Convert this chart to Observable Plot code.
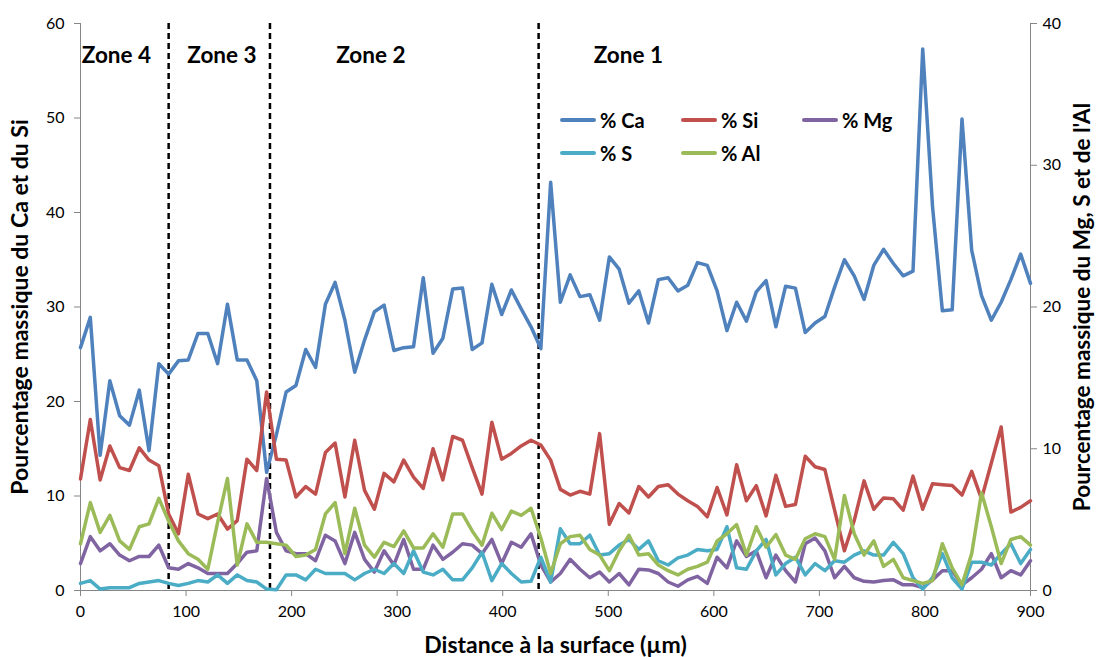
<!DOCTYPE html>
<html>
<head>
<meta charset="utf-8">
<script src="https://cdn.jsdelivr.net/npm/d3@7"></script>
<script src="https://cdn.jsdelivr.net/npm/@observablehq/plot@0.6"></script>
<style>
  body { margin: 0; background: #fff; }
  #wrap { position: relative; width: 1097px; height: 657px; font-family: Lato, "Liberation Sans", sans-serif; }
  #legend { position: absolute; left: 560px; top: 103px; display: grid; grid-template-columns: 121px 121px 121px; }
  .item { display: flex; align-items: center; height: 33px; font-weight: bold; font-size: 20px; color: #000; white-space: nowrap; }
  .sw { width: 36px; height: 4px; border-radius: 2px; margin-right: 4px; }
</style>
</head>
<body>
<div id="wrap"><div id="legend"></div></div>
<script>
// ---- data ----
const xPos = [0,9.3,18.6,27.8,37.1,46.4,55.7,64.9,74.2,83.5,92.8,102.1,111.3,120.6,129.9,139.2,148.5,157.7,167.0,176.3,
  185.6,194.8,204.1,213.4,222.7,232.0,241.2,250.5,259.8,269.1,278.4,287.6,296.9,306.2,315.5,324.7,334.0,343.3,352.6,361.9,
  371.1,380.4,389.7,399.0,408.2,417.5,426.8,436.1,445.4,454.6,463.9,473.2,482.5,491.8,501.0,510.3,519.6,528.9,538.1,547.4,
  556.7,566.0,575.3,584.5,593.8,603.1,612.4,621.6,630.9,640.2,649.5,658.8,668.0,677.3,686.6,695.9,705.2,714.4,723.7,733.0,
  742.3,751.5,760.8,770.1,779.4,788.7,797.9,807.2,816.5,825.8,835.1,844.3,853.6,862.9,872.2,881.4,890.7,900.0];

// left axis (% mass)
const ca = [25.7,28.9,14.3,22.2,18.5,17.5,21.2,14.8,24.0,22.9,24.3,24.4,27.2,27.2,24.0,30.3,24.4,24.4,22.2,12.5,
  16.5,21.0,21.7,25.5,23.6,30.3,32.6,28.6,23.1,26.5,29.5,30.2,25.4,25.7,25.8,33.1,25.1,26.7,31.9,32.0,
  25.5,26.2,32.4,29.2,31.8,29.8,27.9,25.6,43.2,30.5,33.4,31.1,31.3,28.6,35.3,34.0,30.4,31.7,28.3,32.9,
  33.1,31.7,32.3,34.7,34.4,31.7,27.5,30.5,28.5,31.6,32.8,27.9,32.2,32.0,27.3,28.3,29.0,32.1,35.0,33.3,
  30.8,34.4,36.1,34.6,33.3,33.8,57.3,40.6,29.6,29.7,49.9,36.0,31.2,28.6,30.5,32.9,35.6,32.5];
const si = [11.8,18.1,11.7,15.3,13.0,12.7,15.1,13.8,13.2,8.1,6.0,12.3,8.1,7.6,8.1,6.5,7.4,13.9,12.7,21.0,
  13.9,13.8,9.9,11.0,10.2,14.6,15.6,9.9,15.9,10.6,8.6,12.4,11.5,13.8,12.0,10.8,15.0,11.7,16.3,15.9,
  13.0,10.2,17.8,13.9,14.5,15.3,15.9,15.4,13.8,10.7,10.1,10.5,10.2,16.6,7.0,9.2,8.2,11.0,9.9,11.0,
  11.2,10.2,9.5,8.9,7.8,10.9,8.0,13.3,9.5,11.1,7.9,12.2,8.9,9.1,14.2,13.1,12.8,8.5,4.2,7.4,
  11.6,8.6,9.8,9.7,8.5,12.1,8.6,11.3,11.2,11.1,10.1,12.6,9.7,13.5,17.3,8.3,8.8,9.5];

// right axis (% mass)
const mg = [1.9,3.8,2.8,3.3,2.5,2.1,2.4,2.4,3.2,1.6,1.5,1.9,1.6,1.2,1.2,1.2,1.9,2.7,2.8,7.9,
  4.1,2.8,2.6,2.6,2.1,3.9,3.5,1.9,4.1,2.2,1.3,2.8,1.8,3.6,1.5,1.5,3.2,2.2,2.7,3.3,
  3.2,2.6,3.6,1.9,3.4,3.05,4.0,1.8,0.6,1.2,2.2,1.5,0.9,1.3,0.6,1.2,0.4,1.5,1.45,1.2,
  0.6,0.3,0.75,1.0,0.5,2.35,1.6,3.5,2.4,2.8,0.9,2.5,1.4,0.6,3.3,3.7,2.8,0.9,1.7,0.9,
  0.65,0.6,0.7,0.75,0.4,0.4,0.2,0.75,1.4,1.4,0.4,0.9,1.5,2.6,0.9,1.4,1.1,2.1];
const s = [0.5,0.7,0.1,0.2,0.2,0.2,0.5,0.6,0.7,0.5,0.35,0.5,0.7,0.6,1.1,0.5,1.1,0.7,0.6,0.1,
  0.05,1.1,1.1,0.75,1.5,1.2,1.2,1.2,0.75,1.2,1.5,1.2,1.9,1.2,2.8,1.3,1.1,1.5,0.75,0.75,
  1.6,2.7,0.7,1.9,1.2,0.6,0.65,2.35,0.6,4.35,3.3,3.3,3.9,2.5,2.6,3.2,3.6,2.9,3.5,2.1,
  1.8,2.3,2.5,2.9,2.8,2.9,4.5,1.6,1.5,2.8,3.6,1.1,1.9,2.35,1.1,1.9,1.4,2.1,2.0,2.5,
  2.8,2.5,2.5,3.4,2.6,0.9,0.1,0.9,2.6,0.9,0.1,2.0,2.0,1.8,2.6,3.3,1.9,2.9];
const al = [3.3,6.2,4.1,5.3,3.5,2.9,4.5,4.7,6.5,4.9,3.5,2.6,2.2,1.5,4.8,7.9,1.8,4.7,3.4,3.4,
  3.3,3.2,2.4,2.5,2.9,5.4,6.2,2.6,5.8,3.2,2.35,3.4,3.1,4.2,3.0,3.0,4.0,3.05,5.4,5.4,
  4.2,3.2,5.45,4.3,5.6,5.3,5.8,3.7,1.2,3.3,3.8,3.9,2.9,2.5,1.4,2.8,3.9,2.5,2.6,1.8,
  1.4,1.1,1.5,1.7,2.0,3.5,4.0,4.65,2.5,4.5,3.05,3.95,2.5,2.2,3.65,4.0,3.8,2.2,6.7,4.0,
  2.5,3.5,1.7,2.2,0.9,0.7,0.5,0.7,3.3,1.6,0.4,2.6,6.9,4.5,1.9,3.6,3.8,3.2];

const seriesNames = ["% Ca", "% Si", "% Mg", "% S", "% Al"];
const seriesColors = ["#4F81BD", "#C0504D", "#8064A2", "#4BACC6", "#9BBB59"];
const seriesAxis = ["left", "left", "right", "right", "right"];
const seriesValues = [ca, si, mg, s, al];

const leftTicks = [0, 10, 20, 30, 40, 50, 60];
const rightTicks = [0, 10, 20, 30, 40];
const xTicks = [0, 100, 200, 300, 400, 500, 600, 700, 800, 900];

const zoneBoundaries = [83.5, 179.5, 434];
const zoneNames = ["Zone 4", "Zone 3", "Zone 2", "Zone 1"];
const zoneLabelX = [34, 134, 275, 519];

const xTitle = "Distance à la surface (µm)";
const yLeftTitle = "Pourcentage massique du Ca et du Si";
const yRightTitle = "Pourcentage massique du Mg, S et de l'Al";

// ---- chart ----
const leftMax = 60, rightMax = 40, k = leftMax / rightMax;
const font = "Lato, 'Liberation Sans', sans-serif";
const axisColor = "#868686";
const titleSize = 23;

const lineMarks = seriesNames.map((name, j) => {
  const scale = seriesAxis[j] === "left" ? 1 : k;
  const rows = xPos.map((x, i) => ({x, y: seriesValues[j][i] * scale}));
  return Plot.line(rows, {x: "x", y: "y", stroke: seriesColors[j], strokeWidth: 3.5, strokeLinejoin: "round", strokeLinecap: "round"});
});

const chart = Plot.plot({
  width: 1097,
  height: 657,
  marginLeft: 80,
  marginRight: 67,
  marginTop: 23,
  marginBottom: 67,
  style: {fontFamily: font, background: "#fff", color: "#000"},
  x: {domain: [0, 900], label: null},
  y: {domain: [0, leftMax], label: null},
  marks: [
    Plot.ruleX([0, 900], {stroke: axisColor, strokeWidth: 1}),
    Plot.ruleY([0], {stroke: axisColor, strokeWidth: 1}),
    Plot.axisX({ticks: xTicks, tickSize: 6, tickPadding: 9, stroke: axisColor, fill: "#000", fontSize: 16, label: null, tickFormat: d => String(d)}),
    Plot.axisY({anchor: "left", ticks: leftTicks, tickSize: 6, tickPadding: 10, stroke: axisColor, fill: "#000", fontSize: 16, label: null, tickFormat: d => String(d)}),
    Plot.axisY({anchor: "right", ticks: rightTicks.map(d => d * k), tickSize: 6, tickPadding: 6, stroke: axisColor, fill: "#000", fontSize: 16, label: null, tickFormat: d => String(Math.round(d / k))}),
    Plot.ruleX(zoneBoundaries, {stroke: "#000", strokeWidth: 2.5, strokeDasharray: "6,4"}),
    ...lineMarks,
    Plot.text(zoneNames, {x: zoneLabelX, text: zoneNames, frameAnchor: "top", lineAnchor: "middle", textAnchor: "middle", dy: 32, fontSize: 22.5, fontWeight: "bold", fill: "#000"}),
    Plot.text([xTitle], {text: d => d, frameAnchor: "bottom", lineAnchor: "middle", textAnchor: "middle", dy: 55, fontSize: titleSize, fontWeight: "bold", fill: "#000"}),
    Plot.text([yLeftTitle], {text: d => d, frameAnchor: "left", lineAnchor: "middle", textAnchor: "middle", dx: -60, rotate: -90, fontSize: titleSize, fontWeight: "bold", fill: "#000"}),
    Plot.text([yRightTitle], {text: d => d, frameAnchor: "right", lineAnchor: "middle", textAnchor: "middle", dx: 52, rotate: -90, fontSize: 22.5, fontWeight: "bold", fill: "#000"})
  ]
});

const wrap = document.getElementById("wrap");
wrap.insertBefore(chart, wrap.firstChild);

// legend (two rows, three columns, as in the reference)
const legend = document.getElementById("legend");
seriesNames.forEach((name, j) => {
  const item = document.createElement("div");
  item.className = "item";
  const sw = document.createElement("span");
  sw.className = "sw";
  sw.style.background = seriesColors[j];
  const label = document.createElement("span");
  label.textContent = name;
  item.appendChild(sw);
  item.appendChild(label);
  legend.appendChild(item);
});
</script>
</body>
</html>
